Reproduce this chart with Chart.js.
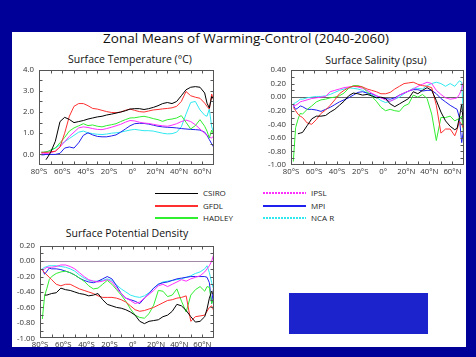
<!DOCTYPE html>
<html><head><meta charset="utf-8">
<script src="https://cdn.jsdelivr.net/npm/chart.js@4.4.1/dist/chart.umd.min.js"></script>
<style>
html,body{margin:0;padding:0;background:#000098;width:476px;height:357px;overflow:hidden;font-family:'Open Sans',sans-serif;}
#panel{position:absolute;left:12px;top:32px;width:454px;height:315px;background:#fff;overflow:hidden;}
.t{position:absolute;white-space:nowrap;color:#111;transform:translate(-50%,-50%);line-height:1;}
canvas{position:absolute;}
#box{position:absolute;left:277px;top:261px;width:139px;height:41px;background:#1c22cc;}
.lg{position:absolute;font-size:8px;line-height:1;color:#222;white-space:nowrap;transform:translateY(-50%);}
.ln{position:absolute;width:43px;}
</style></head>
<body>
<div id="panel">
  <div class="t" style="left:234px;top:7px;font-size:13.5px;">Zonal Means of Warming-Control (2040-2060)</div>
  <div class="t" style="left:118px;top:27px;font-size:10.5px;">Surface Temperature (°C)</div>
  <div class="t" style="left:364px;top:28px;font-size:10.5px;">Surface Salinity (psu)</div>
  <div class="t" style="left:115px;top:201px;font-size:10.5px;">Surface Potential Density</div>
  <canvas id="c1" width="220" height="122" style="left:0px;top:28px;"></canvas>
  <canvas id="c2" width="226" height="122" style="left:228px;top:28px;"></canvas>
  <canvas id="c3" width="220" height="120" style="left:0px;top:204px;"></canvas>
  <div id="box"></div>
  <div id="legend"></div>
</div>
<script>
const MODELS = ['CSIRO','GFDL','HADLEY','IPSL','MPI','NCA R'];
const COLORS = ['#000000','#ff3030','#30ee30','#ff30ff','#2020ee','#30e8f0'];
const LAT = [-78,-76,-74,-72,-70,-66,-62,-58,-54,-50,-46,-42,-38,-34,-30,-26,-22,-18,-14,-10,-6,-2,2,6,10,14,18,22,26,30,34,38,42,46,50,54,58,62,64,66,68,70];
const X_TICKS = [-80,-60,-40,-20,0,20,40,60];
const X_MINOR = [-70,-60,-50,-40,-30,-20,-10,0,10,20,30,40,50,60];

// Surface Temperature (°C)
const TEMP_CSIRO = [null,null,-0.25,-0.08,0.1, 0.62,1.55,1.75,1.65,1.5,1.55,1.6,1.67,1.72,1.77,1.8,1.86,1.9,1.95,2.0,2.06,2.14, 2.16,2.16,2.12,2.16,2.22,2.3,2.4,2.45,2.4,2.5,2.77,3.05,3.17,3.2,3.17,2.9, 2.42,2.19,2.73,2.6];
const TEMP_GFDL = [0.1,0.1,0.1,0.1,0.12, 0.15,0.35,1.0,1.8,2.27,2.4,2.4,2.3,2.17,2.14,2.08,2.02,1.98,1.97,2.0,2.08,2.14, 2.08,2.02,2.0,2.05,2.1,2.12,2.15,2.17,2.2,2.27,2.5,2.97,2.77,2.7,2.65,2.42, 2.27,2.14,2.85,2.5];
const TEMP_HADLEY = [0.1,0.1,0.12,0.15,0.2, 0.3,0.55,0.8,1.1,1.25,1.35,1.45,1.36,1.39,1.33,1.3,1.36,1.4,1.45,1.55,1.64,1.72, 1.73,1.77,1.8,1.75,1.69,1.64,1.56,1.64,1.67,1.72,1.83,1.52,1.2,1.36,1.64,1.33, 1.1,0.78,1.15,0.9];
const TEMP_IPSL = [0.05,0.05,0.05,0.05,0.08, 0.15,0.35,0.6,0.85,1.05,1.25,1.3,1.27,1.22,1.18,1.17,1.22,1.28,1.35,1.42,1.52,1.6, 1.58,1.52,1.48,1.46,1.42,1.38,1.35,1.33,1.38,1.45,1.55,1.62,1.55,1.4,1.2,1.0, 0.9,0.8,0.78,0.88];
const TEMP_MPI = [-0.02,-0.02,0,0,0, 0,0.05,0.3,0.35,0.3,0.55,0.9,1.02,0.92,0.85,0.83,0.83,0.87,0.92,1.05,1.2,1.35, 1.45,1.47,1.46,1.43,1.38,1.33,1.3,1.28,1.27,1.25,1.22,1.2,1.18,1.17,1.15,1.05, 0.9,0.7,0.5,0.32];
const TEMP_NCAR = [0.1,0.1,0.12,0.15,0.2, 0.3,0.45,0.6,0.75,0.9,1.05,1.1,1.02,0.98,0.95,0.94,0.96,1.0,1.02,1.05,1.1,1.15, 1.18,1.15,1.12,1.12,1.1,1.05,1.0,0.97,0.98,1.05,1.3,1.9,2.45,2.5,2.1,1.85, 1.8,2.15,1.3,1.0];
const TEMP_TICKS = [0,1,2,3,4];
const TEMP_MINOR = [0,0.5,1,1.5,2,2.5,3,3.5];

// Surface Salinity (psu)
const SAL_CSIRO = [null,null,-0.54,-0.53,-0.52, -0.42,-0.32,-0.28,-0.28,-0.27,-0.22,-0.18,-0.12,-0.06,0.02,0.06,0.05,0.03,0.04,0.02,-0.01,0.0, -0.02,-0.1,-0.14,-0.1,-0.06,-0.02,0.08,0.05,0.1,0.14,0.1,-0.05,-0.22,-0.35,-0.43,-0.48, -0.46,-0.3,-0.1,-0.5];
const SAL_GFDL = [-0.15,-0.2,-0.25,-0.28,-0.3, -0.38,-0.4,-0.33,-0.24,-0.19,-0.12,-0.04,0.05,0.1,0.14,0.16,0.16,0.15,0.12,0.1,0.08,0.05, 0.05,0.07,0.12,0.16,0.2,0.21,0.22,0.19,0.17,0.16,0.14,-0.12,-0.53,-0.47,-0.47,-0.57, -0.48,-0.36,-0.4,-0.48];
const SAL_HADLEY = [-0.95,-0.45,-0.33,-0.24,-0.25, -0.18,-0.13,-0.07,-0.04,-0.03,-0.01,0.0,0.02,0.06,0.13,0.17,0.17,0.15,0.08,0.01,-0.06,-0.15, -0.2,-0.18,-0.2,-0.21,-0.13,-0.1,0.03,0.0,0.04,-0.02,-0.25,-0.64,-0.3,-0.3,-0.28,-0.35, -0.33,-0.32,-0.28,-0.6];
const SAL_IPSL = [-0.13,-0.12,-0.1,-0.07,-0.06, -0.04,-0.02,-0.01,0.0,0.01,0.08,0.1,0.12,0.14,0.15,0.16,0.15,0.13,0.1,0.06,0.02,-0.01, -0.04,-0.06,-0.03,0.03,0.06,0.09,0.12,0.16,0.19,0.22,0.2,0.1,0.04,-0.01,-0.03,-0.02, -0.01,0.04,0.12,0.26];
const SAL_MPI = [-0.12,-0.18,-0.16,-0.13,-0.14, -0.18,-0.18,-0.19,-0.21,-0.18,-0.15,-0.11,-0.07,-0.04,-0.01,0.03,0.07,0.08,0.06,0.05,0.02,-0.01, -0.02,-0.03,-0.01,0.03,0.06,0.09,0.11,0.11,0.09,0.1,0.1,0.05,-0.02,-0.07,-0.12,-0.16, -0.18,-0.3,-0.67,-0.43];
const SAL_NCAR = [-0.1,-0.08,-0.06,-0.03,-0.03, -0.01,0.0,0.01,0.01,0.02,0.04,0.07,0.1,0.12,0.14,0.13,0.12,0.1,0.06,0.03,0.0,-0.05, -0.08,-0.06,-0.03,0.0,0.05,0.09,0.13,0.13,0.12,0.17,0.2,0.22,0.2,0.16,0.2,0.16, 0.2,0.24,0.22,-0.45];
const SAL_TICKS = [-1,-0.8,-0.6,-0.4,-0.2,0,0.2,0.4];
const SAL_MINOR = [-0.9,-0.8,-0.7,-0.6,-0.5,-0.4,-0.3,-0.2,-0.1,0,0.1,0.2,0.3];

// Surface Potential Density
const DEN_CSIRO = [null,-0.44,-0.44,-0.43,-0.42, -0.41,-0.35,-0.37,-0.38,-0.4,-0.42,-0.43,-0.45,-0.44,-0.42,-0.5,-0.56,-0.58,-0.6,-0.61,-0.63,-0.66, -0.7,-0.78,-0.81,-0.78,-0.77,-0.76,-0.72,-0.7,-0.65,-0.56,-0.58,-0.64,-0.72,-0.79,-0.78,-0.72, -0.62,-0.48,-0.39,-0.45];
const DEN_GFDL = [-0.12,-0.15,-0.18,-0.21,-0.24, -0.3,-0.32,-0.3,-0.3,-0.33,-0.36,-0.38,-0.4,-0.42,-0.45,-0.47,-0.47,-0.47,-0.48,-0.5,-0.53,-0.58, -0.63,-0.65,-0.64,-0.62,-0.6,-0.57,-0.54,-0.51,-0.5,-0.48,-0.47,-0.45,-0.78,-0.72,-0.71,-0.7, -0.65,-0.6,-0.58,-0.65];
const DEN_HADLEY = [-0.75,-0.45,-0.35,-0.24,-0.2, -0.16,-0.14,-0.13,-0.15,-0.18,-0.22,-0.26,-0.32,-0.36,-0.35,-0.3,-0.25,-0.3,-0.37,-0.44,-0.52,-0.62, -0.7,-0.73,-0.74,-0.68,-0.57,-0.38,-0.39,-0.46,-0.44,-0.36,-0.52,-0.66,-0.44,-0.37,-0.33,-0.39, -0.33,-0.34,-0.55,-0.47];
const DEN_IPSL = [-0.12,-0.1,-0.08,-0.08,-0.08, -0.07,-0.05,-0.05,-0.07,-0.1,-0.15,-0.2,-0.24,-0.26,-0.27,-0.26,-0.24,-0.27,-0.35,-0.42,-0.48,-0.51, -0.55,-0.53,-0.48,-0.43,-0.38,-0.32,-0.3,-0.33,-0.3,-0.27,-0.24,-0.26,-0.23,-0.21,-0.19,-0.14, -0.1,-0.06,0.0,0.1];
const DEN_MPI = [-0.1,-0.17,-0.13,-0.09,-0.1, -0.1,-0.11,-0.13,-0.15,-0.18,-0.22,-0.25,-0.27,-0.28,-0.26,-0.23,-0.2,-0.23,-0.32,-0.42,-0.48,-0.5, -0.52,-0.55,-0.48,-0.42,-0.35,-0.3,-0.28,-0.27,-0.25,-0.23,-0.22,-0.21,-0.2,-0.2,-0.2,-0.2, -0.21,-0.28,-0.55,-0.3];
const DEN_NCAR = [-0.1,-0.08,-0.07,-0.06,-0.06, -0.06,-0.07,-0.08,-0.1,-0.13,-0.18,-0.22,-0.25,-0.26,-0.26,-0.25,-0.23,-0.25,-0.31,-0.36,-0.4,-0.44, -0.46,-0.47,-0.45,-0.41,-0.35,-0.3,-0.27,-0.26,-0.25,-0.24,-0.23,-0.21,-0.19,-0.16,-0.14,-0.1, -0.06,-0.15,-0.28,-0.38];
const DEN_TICKS = [-1,-0.8,-0.6,-0.4,-0.2,0,0.2];
const DEN_MINOR = [-0.9,-0.8,-0.7,-0.6,-0.5,-0.4,-0.3,-0.2,-0.1,0,0.1];

Chart.defaults.font.family = "'Open Sans', sans-serif";

const fmtLat = v => v < 0 ? (-v) + '°S' : (v === 0 ? '0°' : v + '°N');

const framePlugin = {
  id: 'frame',
  beforeDatasetsDraw(chart, args, o) {
    const {ctx, chartArea: a, scales: {y}} = chart;
    const y0 = Math.round(y.getPixelForValue(0)) + 0.5;
    ctx.save(); ctx.strokeStyle = o.zeroColor; ctx.lineWidth = 1;
    ctx.beginPath(); ctx.moveTo(a.left, y0); ctx.lineTo(a.right, y0); ctx.stroke(); ctx.restore();
  },
  afterDatasetsDraw(chart, args, o) {
    const {ctx, chartArea: a, scales: {x, y}} = chart;
    ctx.save(); ctx.strokeStyle = '#555'; ctx.lineWidth = 1;
    const L = Math.round(a.left) + 0.5, R = Math.round(a.right) - 0.5, T = Math.round(a.top) + 0.5, B = Math.round(a.bottom) - 0.5;
    ctx.strokeRect(L, T, R - L, B - T);
    ctx.beginPath();
    X_MINOR.forEach(v => { const p = Math.round(x.getPixelForValue(v)) + 0.5; ctx.moveTo(p, B); ctx.lineTo(p, B - 3); ctx.moveTo(p, T); ctx.lineTo(p, T + 3); });
    o.yMinor.forEach(v => { const p = Math.round(y.getPixelForValue(v)) + 0.5; ctx.moveTo(L, p); ctx.lineTo(L + 3, p); ctx.moveTo(R, p); ctx.lineTo(R - 3, p); });
    ctx.stroke(); ctx.restore();
  }
};

function makeChart(id, series, yMin, yMax, yTicks, dec, yMinor, yW, xH, pad, zeroColor) {
  new Chart(document.getElementById(id), {
    type: 'line',
    data: {
      datasets: MODELS.map((m, i) => ({
        label: m,
        data: LAT.map((lat, j) => ({x: lat, y: series[i][j]})),
        borderColor: COLORS[i], borderWidth: 1, pointRadius: 0, tension: 0, spanGaps: false, fill: false
      }))
    },
    options: {
      responsive: false, animation: false, events: [],
      layout: {padding: pad},
      plugins: {legend: {display: false}, tooltip: {enabled: false}, frame: {yMinor: yMinor, zeroColor: zeroColor}},
      scales: {
        x: {
          type: 'linear', min: -80, max: 70,
          afterBuildTicks: s => { s.ticks = X_TICKS.map(v => ({value: v})); },
          afterFit: s => { s.height = xH; },
          grid: {display: false, drawTicks: false}, border: {display: false},
          ticks: {padding: 2, color: '#333', font: {size: 7.8}, maxRotation: 0, autoSkip: false, callback: v => fmtLat(v)}
        },
        y: {
          type: 'linear', min: yMin, max: yMax,
          afterBuildTicks: s => { s.ticks = yTicks.map(v => ({value: v})); },
          afterFit: s => { s.width = yW; },
          grid: {display: false, drawTicks: false}, border: {display: false},
          ticks: {padding: 5, color: '#333', font: {size: 7.8}, autoSkip: false, callback: v => Number(v).toFixed(dec)}
        }
      }
    },
    plugins: [framePlugin]
  });
}

makeChart('c1', [TEMP_CSIRO, TEMP_GFDL, TEMP_HADLEY, TEMP_IPSL, TEMP_MPI, TEMP_NCAR], -0.5, 4.0, TEMP_TICKS, 1, TEMP_MINOR, 27, 17, {top: 9.5, right: 18, left: 0, bottom: 0}, '#666');
makeChart('c2', [SAL_CSIRO, SAL_GFDL, SAL_HADLEY, SAL_IPSL, SAL_MPI, SAL_NCAR], -1.0, 0.4, SAL_TICKS, 2, SAL_MINOR, 51, 17, {top: 10, right: 2, left: 0, bottom: 0}, '#666');
makeChart('c3', [DEN_CSIRO, DEN_GFDL, DEN_HADLEY, DEN_IPSL, DEN_MPI, DEN_NCAR], -1.0, 0.2, DEN_TICKS, 2, DEN_MINOR, 28, 17.7, {top: 7.3, right: 18, left: 0, bottom: 0}, '#a08aa8');

// legend (HTML, built from the series names and colours)
const LEG_W = [1, 2, 2, 2, 2, 2];
const LEG_DOT = [false, false, false, true, false, true];
const leg = document.getElementById('legend');
MODELS.forEach((m, i) => {
  const col = i < 3 ? 0 : 1, row = i % 3;
  const lx = col === 0 ? 143 : 251, tx = col === 0 ? 191 : 299;
  const ty = [161, 173.5, 185.5][row];
  const ln = document.createElement('div');
  ln.className = 'ln';
  ln.style.left = lx + 'px';
  ln.style.top = Math.round(ty - LEG_W[i] / 2) + 'px';
  ln.style.height = LEG_W[i] + 'px';
  if (LEG_DOT[i]) {
    ln.style.backgroundImage = 'repeating-linear-gradient(to right, ' + COLORS[i] + ' 0px, ' + COLORS[i] + ' 2px, rgba(255,255,255,0) 2px, rgba(255,255,255,0) 3px)';
  } else {
    ln.style.backgroundColor = COLORS[i];
  }
  leg.appendChild(ln);
  const tt = document.createElement('div');
  tt.className = 'lg';
  tt.style.left = tx + 'px';
  tt.style.top = ty + 'px';
  tt.textContent = m;
  leg.appendChild(tt);
});
</script>
</body></html>
